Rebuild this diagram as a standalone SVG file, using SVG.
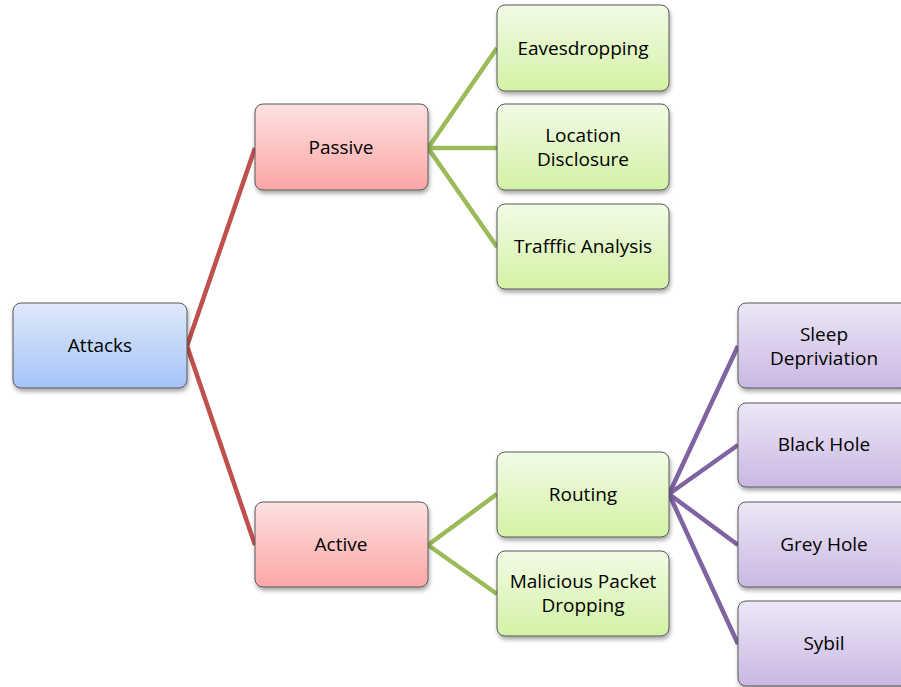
<svg xmlns="http://www.w3.org/2000/svg" width="901" height="687" viewBox="0 0 901 687">
<style>
.box{stroke:#595959;stroke-width:1;filter:url(#sh)}
.t{font-family:"Open Sans","Liberation Sans",sans-serif;font-size:19px;fill:#000;text-anchor:middle}
.c{fill:none;stroke-width:4.5;stroke-linecap:butt}
.r{stroke:#c0504d}.g{stroke:#9bbb59}.p{stroke:#8064a2}
</style>
<defs>
<linearGradient id="gb" x1="0" y1="0" x2="0" y2="1"><stop offset="0" stop-color="#dfe9fb"/><stop offset="1" stop-color="#a5c3f7"/></linearGradient>
<linearGradient id="gr" x1="0" y1="0" x2="0" y2="1"><stop offset="0" stop-color="#fde1e1"/><stop offset="1" stop-color="#fca6a6"/></linearGradient>
<linearGradient id="gg" x1="0" y1="0" x2="0" y2="1"><stop offset="0" stop-color="#f2fbe6"/><stop offset="1" stop-color="#d3f2a5"/></linearGradient>
<linearGradient id="gp" x1="0" y1="0" x2="0" y2="1"><stop offset="0" stop-color="#ede7f6"/><stop offset="1" stop-color="#c9b8e3"/></linearGradient>
<filter id="sh" x="-10%" y="-10%" width="130%" height="140%"><feDropShadow dx="1" dy="3" stdDeviation="2" flood-color="#000" flood-opacity="0.35"/></filter>
</defs>
<g id="connectors">
<path class="c r" d="M187 346 L255 148 M187 346 L255 545"/>
<path class="c g" d="M428 148 L497 48 M428 148 L497 148 M428 148 L497 247 M428 545 L497 494 M428 545 L497 594"/>
<path class="c p" d="M669 494 L738 346 M669 494 L738 445 M669 494 L738 545 M669 494 L738 644"/>
</g>
<g id="attacks"><rect class="box" x="13" y="303" width="174" height="85" rx="8" fill="url(#gb)"/><text class="t" x="100" y="352">Attacks</text></g>
<g id="passive"><rect class="box" x="255" y="104" width="173" height="86" rx="8" fill="url(#gr)"/><text class="t" x="341" y="154">Passive</text></g>
<g id="active"><rect class="box" x="255" y="502" width="173" height="85" rx="8" fill="url(#gr)"/><text class="t" x="341" y="551">Active</text></g>
<g id="eavesdropping"><rect class="box" x="497" y="5" width="172" height="86" rx="8" fill="url(#gg)"/><text class="t" x="583" y="55">Eavesdropping</text></g>
<g id="location"><rect class="box" x="497" y="104" width="172" height="86" rx="8" fill="url(#gg)"/><text class="t" x="583" y="142">Location</text><text class="t" x="583" y="166">Disclosure</text></g>
<g id="traffic"><rect class="box" x="497" y="204" width="172" height="85" rx="8" fill="url(#gg)"/><text class="t" x="583" y="253">Trafffic Analysis</text></g>
<g id="routing"><rect class="box" x="497" y="452" width="172" height="85" rx="8" fill="url(#gg)"/><text class="t" x="583" y="501">Routing</text></g>
<g id="malicious"><rect class="box" x="497" y="551" width="172" height="85" rx="8" fill="url(#gg)"/><text class="t" x="583" y="588">Malicious Packet</text><text class="t" x="583" y="612">Dropping</text></g>
<g id="sleep"><rect class="box" x="738" y="303" width="172" height="85" rx="8" fill="url(#gp)"/><text class="t" x="824" y="341">Sleep</text><text class="t" x="824" y="365">Depriviation</text></g>
<g id="blackhole"><rect class="box" x="738" y="403" width="172" height="84" rx="8" fill="url(#gp)"/><text class="t" x="824" y="451">Black Hole</text></g>
<g id="greyhole"><rect class="box" x="738" y="502" width="172" height="85" rx="8" fill="url(#gp)"/><text class="t" x="824" y="551">Grey Hole</text></g>
<g id="sybil"><rect class="box" x="738" y="601" width="172" height="85" rx="8" fill="url(#gp)"/><text class="t" x="824" y="650">Sybil</text></g>
</svg>
